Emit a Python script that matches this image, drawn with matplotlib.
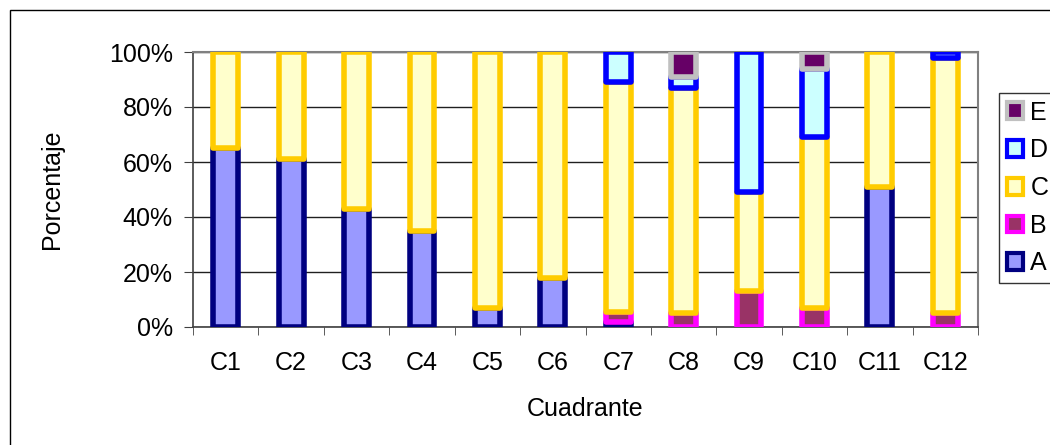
import matplotlib.pyplot as plt
import numpy as np
from matplotlib.patches import Patch, Rectangle


plt.rcParams["font.family"] = ["Liberation Sans", "DejaVu Sans"]

CATEGORIES = ["C1", "C2", "C3", "C4", "C5", "C6", "C7", "C8", "C9", "C10", "C11", "C12"]
SERIES = ["A", "B", "C", "D", "E"]

# percentages per quadrant
A = [65, 61, 43, 35, 7, 18, 2, 0, 0, 0, 51, 0]
B = [0, 0, 0, 0, 0, 0, 3.5, 5, 13, 7, 0, 5]
C = [35, 39, 57, 65, 93, 82, 83.5, 82, 36, 62, 49, 93]
D = [0, 0, 0, 0, 0, 0, 11, 4, 51, 25, 0, 2]
E = [0, 0, 0, 0, 0, 0, 0, 9, 0, 6, 0, 0]

FACE = {"A": "#9999FF", "B": "#993366", "C": "#FFFFCC", "D": "#CCFFFF", "E": "#660066"}
EDGE = {"A": "#000080", "B": "#FF00FF", "C": "#FFCC00", "D": "#0000FF", "E": "#C0C0C0"}

values = {"A": A, "B": B, "C": C, "D": D, "E": E}

FS = 18

fig = plt.figure(figsize=(10.5, 4.45), dpi=100)
fig.patches.append(Rectangle((10 / 1050, -0.1), 1.2, (435 / 445) + 0.1,
                             transform=fig.transFigure, fill=False,
                             edgecolor="black", linewidth=1.0))
ax = fig.add_axes([193 / 1050, 118 / 445, 785 / 1050, 275 / 445])

x = np.arange(len(CATEGORIES))
bottom = np.zeros(len(CATEGORIES))
for name in SERIES:
    vals = np.array(values[name], dtype=float)
    keep = vals > 0
    ax.bar(x[keep], vals[keep], width=0.38, bottom=bottom[keep],
           color=FACE[name], edgecolor=EDGE[name], linewidth=4.0,
           joinstyle="round", zorder=3)
    bottom += vals

ax.set_xlim(-0.5, len(CATEGORIES) - 0.5)
ax.set_ylim(0, 100)
ax.set_yticks(range(0, 101, 20))
ax.set_yticklabels([f"{v}%" for v in range(0, 101, 20)], fontsize=FS)
ax.yaxis.grid(True, color="#202020", linewidth=1.0, zorder=0)

ax.set_xticks(x)
ax.set_xticklabels(CATEGORIES, fontsize=FS)
ax.set_xticks(np.arange(-0.5, len(CATEGORIES)), minor=True)
ax.tick_params(axis="x", which="major", length=0, pad=17)
ax.tick_params(axis="x", which="minor", length=6, direction="out", color="#404040")
ax.tick_params(axis="y", length=6.5, direction="out", color="#404040", pad=8)

for side in ["top", "right"]:
    ax.spines[side].set_color("#808080")
    ax.spines[side].set_linewidth(1.5)
for side in ["left", "bottom"]:
    ax.spines[side].set_color("#404040")
    ax.spines[side].set_linewidth(1.2)

ax.set_ylabel("Porcentaje", fontsize=FS, labelpad=32)
ax.set_xlabel("Cuadrante", fontsize=FS, labelpad=16)

handles = [Patch(facecolor=FACE[n], edgecolor=EDGE[n], linewidth=3.0) for n in SERIES]
leg = fig.legend(handles[::-1], SERIES[::-1], loc="upper left",
                 bbox_to_anchor=(999 / 1050, 1 - 93 / 445), fontsize=FS,
                 frameon=True, fancybox=False, edgecolor="black",
                 handlelength=0.65, handleheight=0.65, handletextpad=0.3,
                 labelspacing=0.55, borderpad=0.3, borderaxespad=0)
leg.get_frame().set_linewidth(1.0)

fig.savefig("out.png", dpi=100)
